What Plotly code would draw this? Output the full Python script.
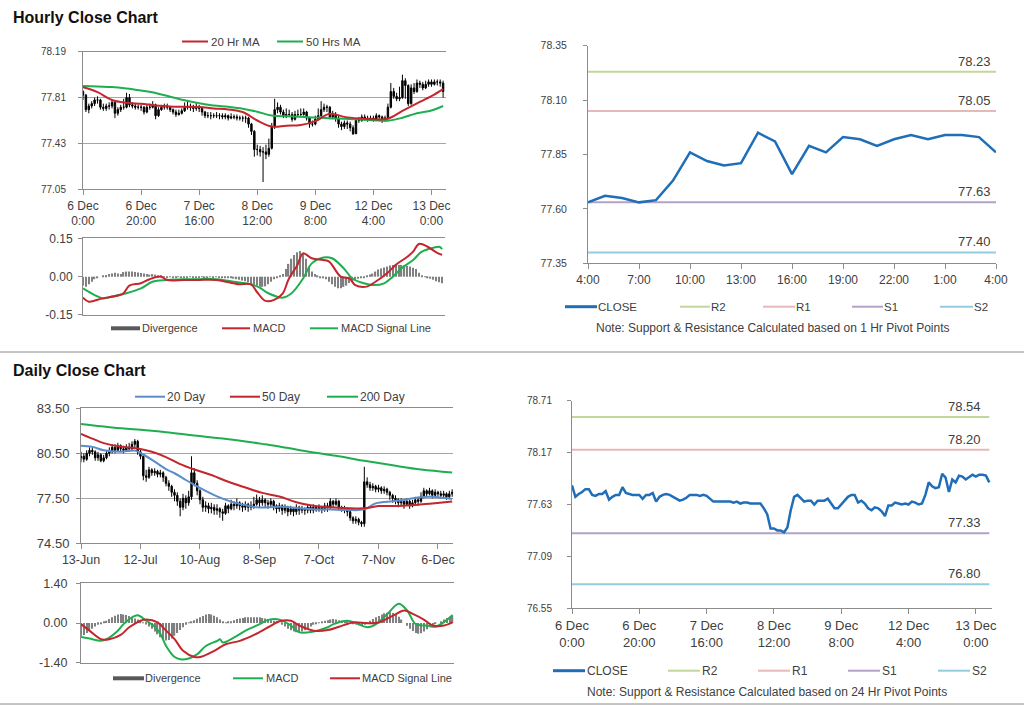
import plotly.graph_objects as go

W, H = 1024, 706
FONT = "Arial, Liberation Sans, Helvetica, sans-serif"
TXT = "#404040"
AX = "#8c8c8c"
GRID = "#a6a6a6"
RED = "#c3262c"
GREEN = "#1fae4f"
BLUE_MA = "#5b8ccb"
CLOSE_BLUE = "#1f6eb7"
DIV_GRAY = "#808080"
PIVOT_COLORS = {"R2": "#c3d69b", "R1": "#e6b9b8", "S1": "#b3a2c7", "S2": "#93cddd"}

# ---------------- hourly data (6 Dec 0:00 -> 13 Dec 4:00, trading hours) ----------------
hour_tick_pos = [0, 20, 40, 60, 80, 100, 120]
hour_tick_text = ["6 Dec<br>0:00", "6 Dec<br>20:00", "7 Dec<br>16:00", "8 Dec<br>12:00",
                  "9 Dec<br>8:00", "12 Dec<br>4:00", "13 Dec<br>0:00"]

h_open = [77.86,77.83,77.71,77.74,77.76,77.79,77.79,77.73,77.72,77.74,
          77.74,77.77,77.68,77.71,77.73,77.73,77.81,77.75,77.74,77.73,
          77.73,77.73,77.69,77.73,77.73,77.75,77.66,77.71,77.73,77.74,
          77.73,77.71,77.69,77.67,77.68,77.70,77.73,77.73,77.73,77.72,
          77.73,77.72,77.69,77.66,77.66,77.66,77.66,77.66,77.66,77.65,
          77.66,77.64,77.65,77.65,77.64,77.64,77.64,77.64,77.59,77.53,
          77.38,77.38,77.36,77.36,77.34,77.39,77.57,77.71,77.73,77.69,
          77.66,77.67,77.67,77.63,77.67,77.67,77.67,77.69,77.64,77.59,
          77.59,77.63,77.66,77.71,77.73,77.73,77.65,77.67,77.64,77.59,
          77.57,77.60,77.59,77.56,77.51,77.62,77.62,77.65,77.64,77.63,
          77.64,77.63,77.66,77.65,77.63,77.64,77.73,77.86,77.82,77.80,
          77.81,77.95,77.91,77.76,77.89,77.86,77.93,77.92,77.89,77.92,
          77.94,77.92,77.94,77.94,77.93]
h_high = [77.87,77.84,77.76,77.78,77.81,77.82,77.80,77.76,77.76,77.77,
          77.79,77.78,77.73,77.75,77.80,77.85,77.84,77.77,77.76,77.75,
          77.75,77.74,77.75,77.76,77.78,77.76,77.73,77.75,77.76,77.76,
          77.74,77.72,77.71,77.71,77.72,77.77,77.78,77.76,77.75,77.77,
          77.75,77.73,77.70,77.69,77.69,77.68,77.69,77.68,77.68,77.68,
          77.67,77.68,77.67,77.67,77.66,77.66,77.66,77.65,77.60,77.54,
          77.42,77.41,77.40,77.42,77.47,77.60,77.80,77.77,77.75,77.71,
          77.72,77.71,77.69,77.70,77.71,77.72,77.72,77.70,77.65,77.62,
          77.66,77.72,77.78,77.76,77.75,77.74,77.70,77.69,77.66,77.61,
          77.62,77.62,77.61,77.58,77.64,77.65,77.67,77.67,77.66,77.66,
          77.66,77.68,77.67,77.66,77.66,77.76,77.93,77.89,77.85,77.90,
          78.00,77.97,77.92,77.92,77.93,77.96,77.95,77.94,77.95,77.96,
          77.96,77.96,77.96,77.96,77.95]
h_low = [77.79,77.69,77.68,77.72,77.74,77.76,77.71,77.70,77.70,77.71,
         77.72,77.64,77.66,77.69,77.71,77.72,77.73,77.72,77.71,77.71,
         77.70,77.67,77.68,77.71,77.72,77.63,77.65,77.70,77.71,77.71,
         77.69,77.67,77.65,77.66,77.67,77.69,77.71,77.70,77.69,77.70,
         77.69,77.66,77.64,77.64,77.63,77.64,77.64,77.63,77.63,77.63,
         77.62,77.63,77.63,77.62,77.62,77.61,77.60,77.56,77.50,77.32,
         77.33,77.32,77.11,77.30,77.32,77.38,77.55,77.68,77.67,77.64,
         77.64,77.65,77.61,77.62,77.65,77.65,77.66,77.62,77.56,77.57,
         77.58,77.62,77.65,77.69,77.69,77.63,77.63,77.61,77.56,77.54,
         77.55,77.55,77.53,77.50,77.51,77.60,77.61,77.62,77.61,77.62,
         77.61,77.62,77.62,77.60,77.61,77.63,77.72,77.80,77.78,77.78,
         77.80,77.80,77.74,77.75,77.84,77.85,77.89,77.87,77.88,77.90,
         77.90,77.91,77.91,77.90,77.81]
h_close = [77.83,77.71,77.74,77.76,77.79,77.79,77.73,77.72,77.74,77.74,
           77.77,77.68,77.71,77.73,77.73,77.81,77.75,77.74,77.73,77.73,
           77.73,77.69,77.73,77.73,77.75,77.66,77.71,77.73,77.74,77.73,
           77.71,77.69,77.67,77.68,77.70,77.73,77.73,77.73,77.72,77.73,
           77.72,77.69,77.66,77.66,77.66,77.66,77.66,77.66,77.65,77.66,
           77.64,77.65,77.65,77.64,77.64,77.64,77.64,77.59,77.53,77.38,
           77.38,77.36,77.36,77.34,77.39,77.57,77.71,77.73,77.69,77.66,
           77.67,77.67,77.63,77.67,77.67,77.67,77.69,77.64,77.59,77.59,
           77.63,77.66,77.71,77.73,77.73,77.65,77.67,77.64,77.59,77.57,
           77.60,77.59,77.56,77.51,77.62,77.62,77.65,77.64,77.63,77.64,
           77.63,77.66,77.65,77.63,77.64,77.73,77.86,77.82,77.80,77.81,
           77.95,77.91,77.76,77.89,77.86,77.93,77.92,77.89,77.92,77.94,
           77.92,77.94,77.94,77.93,77.86]
h_index = list(range(len(h_close)))

ma_hours = [0,5,10,15,20,25,30,35,40,45,50,55,60,65,70,75,80,85,90,95,100,105,110,115,120,124]
ma20h = [77.895,77.855,77.79,77.767,77.758,77.745,77.737,77.734,77.732,77.72,77.712,77.69,77.62,
         77.57,77.577,77.583,77.615,77.675,77.65,77.637,77.63,77.635,77.70,77.762,77.822,77.88]
ma50h = [77.906,77.901,77.897,77.885,77.868,77.848,77.817,77.788,77.764,77.744,77.733,77.718,77.693,
         77.661,77.655,77.651,77.644,77.639,77.634,77.628,77.622,77.618,77.643,77.68,77.703,77.74]

h_div = [-0.035,-0.04,-0.03,-0.02,-0.01,
         -0.005,0.0,0.003,
         0.006,0.01,0.012,
         0.015,0.012,0.01,
         0.018,0.02,0.02,0.02,0.018,0.016,0.014,
         0.012,0.01,0.008,0.01,0.008,
         0.004,0.002,-0.002,
         -0.003,-0.002,-0.004,-0.003,-0.002,-0.003,-0.005,-0.003,-0.002,-0.003,-0.004,
         -0.003,-0.002,-0.005,-0.003,-0.002,-0.003,-0.002,-0.003,-0.004,-0.003,-0.004,
         -0.006,-0.008,-0.01,-0.012,-0.015,-0.018,
         -0.022,-0.028,-0.032,-0.036,-0.04,-0.04,-0.038,-0.03,
         -0.02,-0.01,-0.004,
         0.004,0.01,0.03,
         0.05,0.07,0.085,0.095,0.1,0.09,0.07,
         0.04,0.02,0.01,
         0.003,-0.004,-0.006,-0.01,-0.02,
         -0.03,-0.04,-0.045,-0.045,-0.04,-0.035,-0.025,-0.02,
         -0.012,-0.008,-0.005,-0.003,0.003,
         0.008,0.012,0.02,0.028,0.032,0.036,
         0.04,0.044,0.046,0.048,0.046,0.046,0.044,0.042,0.04,
         0.035,0.03,0.015,0.005,
         -0.002,-0.004,-0.008,-0.012,-0.018,-0.022,-0.026]
hmacd_hours = [0,2,6,8,12,14,16,20,23,27,29,35,40,46,52,54,58,60,63,66,
               69,71,74,76,79,83,85,89,92,94,98,101,105,108,112,114,116,119,122,124]
hmacd = [-0.082,-0.098,-0.087,-0.082,-0.074,-0.065,-0.035,-0.026,-0.010,0.000,
         -0.013,-0.013,-0.013,-0.013,-0.026,-0.030,-0.030,-0.059,-0.095,-0.091,
         -0.065,-0.010,0.045,0.091,0.072,0.065,0.059,0.000,-0.007,-0.033,
         -0.039,-0.020,0.013,0.046,0.078,0.098,0.128,0.117,0.095,0.085]
hsig_hours = [0,4,7,10,15,20,24,29,35,40,46,52,58,61,64,69,72,76,79,83,
              86,90,93,97,100,104,107,110,114,117,121,123,124]
hsig = [-0.046,-0.072,-0.085,-0.078,-0.065,-0.046,-0.020,-0.013,-0.010,-0.010,
        -0.010,-0.020,-0.030,-0.043,-0.065,-0.082,-0.065,-0.007,0.052,0.075,
        0.072,0.033,-0.007,-0.026,-0.033,-0.026,0.000,0.033,0.065,0.098,
        0.113,0.117,0.108]

# last 24 hours (12 Dec 4:00 -> 13 Dec 4:00)
last24_text = ["4:00","7:00","10:00","13:00","16:00","19:00","22:00","1:00","4:00"]
last24_pos = [0,3,6,9,12,15,18,21,24]
pivot_1h = {"R2": 78.23, "R1": 78.05, "S1": 77.63, "S2": 77.40}
pivot_24h = {"R2": 78.54, "R1": 78.20, "S1": 77.33, "S2": 76.80}

# ---------------- daily data (13 Jun -> 13 Dec, trading days) ----------------
day_tick_pos = [0, 21, 42, 63, 84, 105, 126]
day_tick_text = ["13-Jun", "12-Jul", "10-Aug", "8-Sep", "7-Oct", "7-Nov", "6-Dec"]
d_open = [80.2,80.3,80.1,80.5,80.7,80.6,80.2,80.4,80.0,80.2,
          80.5,80.6,80.9,80.7,81.0,80.8,80.7,80.9,80.8,81.1,
          81.3,80.6,80.3,79.0,78.9,79.4,79.2,79.3,79.1,79.2,
          78.9,78.5,78.3,77.9,77.7,77.3,76.9,77.5,77.2,77.6,
          79.2,78.5,78.0,77.4,76.9,77.0,76.8,76.9,76.7,76.8,
          76.6,76.5,77.0,76.8,77.1,77.0,77.2,77.0,76.9,77.1,
          76.9,77.0,77.1,77.4,77.2,77.4,77.2,77.1,77.3,77.0,
          76.8,77.0,76.7,76.9,76.6,76.8,76.6,76.9,76.7,76.8,
          76.7,76.9,76.7,76.9,76.8,76.9,76.8,77.0,76.9,77.3,
          77.1,77.3,76.9,76.8,76.8,76.6,76.2,76.0,76.1,75.9,
          75.8,78.6,78.4,78.2,78.3,78.1,78.2,78.0,78.1,77.9,
          77.7,77.5,77.4,77.2,77.3,77.1,77.3,77.0,77.2,77.4,
          77.3,77.6,78.0,77.8,78.0,77.7,77.9,77.8,77.7,77.8,
          77.6,77.8]
d_high = [80.6,80.5,80.7,80.9,80.9,80.7,80.6,80.5,80.4,80.7,
          80.9,81.1,81.1,81.2,81.1,81.0,81.1,81.2,81.3,81.45,
          81.4,80.8,80.4,79.4,79.6,79.5,79.5,79.4,79.4,79.3,
          79.0,78.7,78.4,78.1,77.9,77.5,77.8,77.7,78.0,80.3,
          79.5,78.7,78.1,77.6,77.3,77.2,77.2,77.1,77.1,76.9,
          76.8,77.2,77.1,77.4,77.3,77.5,77.3,77.2,77.3,77.2,
          77.3,77.6,77.75,77.6,77.7,77.5,77.4,77.5,77.4,77.1,
          77.2,77.1,77.1,77.0,77.0,76.9,77.1,77.0,77.0,76.9,
          77.1,77.0,77.1,77.0,77.1,77.0,77.2,77.2,77.5,77.4,
          77.5,77.4,77.0,77.0,76.9,76.7,76.3,76.3,76.2,76.0,
          79.6,78.9,78.6,78.5,78.4,78.4,78.3,78.3,78.2,78.0,
          77.8,77.7,77.5,77.5,77.4,77.5,77.4,77.4,77.6,77.6,
          77.9,78.2,78.1,78.2,78.1,78.1,78.0,78.0,78.0,77.9,
          78.0,78.1]
d_low = [79.9,79.9,80.0,80.3,80.4,80.0,80.0,79.9,79.9,80.1,
         80.3,80.5,80.5,80.6,80.6,80.5,80.6,80.6,80.7,80.9,
         80.4,80.1,78.7,78.6,78.8,79.0,79.0,78.9,78.9,78.6,
         78.3,78.0,77.6,77.3,77.0,76.3,76.7,76.8,77.0,77.4,
         78.3,77.7,77.1,76.6,76.6,76.5,76.5,76.4,76.4,76.2,
         76.0,76.4,76.5,76.7,76.7,76.8,76.7,76.6,76.7,76.6,
         76.7,76.8,77.0,76.9,77.0,76.9,76.8,76.9,76.7,76.5,
         76.6,76.4,76.5,76.3,76.4,76.3,76.4,76.4,76.5,76.4,
         76.5,76.5,76.5,76.6,76.6,76.5,76.6,76.6,76.8,76.9,
         77.0,76.7,76.6,76.5,76.3,76.0,75.8,75.8,75.7,75.6,
         75.6,78.2,78.0,78.0,77.9,77.9,77.8,77.8,77.7,77.4,
         77.2,77.1,76.9,77.0,76.8,77.0,76.8,76.9,77.0,77.0,
         77.2,77.5,77.6,77.7,77.5,77.6,77.6,77.5,77.5,77.4,
         77.5,77.6]
d_close = [80.3,80.1,80.5,80.7,80.6,80.2,80.4,80.0,80.2,80.5,
           80.6,80.9,80.7,81.0,80.8,80.7,80.9,80.8,81.1,81.3,
           80.6,80.3,79.0,78.9,79.4,79.2,79.3,79.1,79.2,78.9,
           78.5,78.3,77.9,77.7,77.3,76.9,77.5,77.2,77.6,79.2,
           78.5,78.0,77.4,76.9,77.0,76.8,76.9,76.7,76.8,76.6,
           76.5,77.0,76.8,77.1,77.0,77.2,77.0,76.9,77.1,76.9,
           77.0,77.1,77.4,77.2,77.4,77.2,77.1,77.3,77.0,76.8,
           77.0,76.7,76.9,76.6,76.8,76.6,76.9,76.7,76.8,76.7,
           76.9,76.7,76.9,76.8,76.9,76.8,77.0,76.9,77.3,77.1,
           77.3,76.9,76.8,76.8,76.6,76.2,76.0,76.1,75.9,75.8,
           78.6,78.4,78.2,78.3,78.1,78.2,78.0,78.1,77.9,77.7,
           77.5,77.4,77.2,77.3,77.1,77.3,77.0,77.2,77.4,77.3,
           77.6,78.0,77.8,78.0,77.7,77.9,77.8,77.7,77.8,77.6,
           77.8,77.9]
d_index = list(range(len(d_close)))

ma20_days = [0,4,8,14,19,22,26,30,33,37,40,44,48,53,58,62,66,71,77,83,88,94,100,104,110,114,119,124,131]
ma20d = [81.0,80.93,80.7,80.6,80.68,80.42,79.94,79.45,79.17,78.72,78.4,78.0,77.63,77.28,77.05,76.9,
         76.9,76.94,76.83,76.76,76.76,76.72,76.76,77.16,77.3,77.39,77.56,77.6,77.45]
ma50_days = [0,4,8,14,20,25,30,35,40,46,52,58,64,70,76,82,88,94,100,105,112,118,124,131]
ma50d = [81.8,81.48,81.18,80.95,80.82,80.6,80.25,79.78,79.42,79.05,78.6,78.22,77.86,77.62,77.24,
         77.0,76.9,76.84,76.83,76.98,76.99,77.05,77.16,77.28]
ma200_days = [0,10,20,30,40,50,60,65,70,80,90,100,110,120,131]
ma200d = [82.45,82.24,82.08,81.91,81.68,81.48,81.24,81.10,80.96,80.62,80.33,80.0,79.70,79.42,79.22]

d_div = [-0.45,-0.42,-0.35,-0.28,-0.2,-0.12,-0.06,
         -0.02,0.03,0.08,
         0.14,0.2,0.26,0.3,0.32,0.3,0.28,0.25,0.2,0.16,
         0.12,0.06,0.02,
         -0.05,-0.12,-0.2,-0.3,-0.4,-0.5,-0.58,-0.62,-0.6,-0.55,-0.45,-0.35,-0.25,-0.15,-0.06,
         0.02,0.06,0.1,
         0.15,0.2,0.25,0.3,0.32,0.3,0.26,0.2,0.12,
         0.04,0.02,0.03,0.05,
         0.1,0.14,0.16,0.18,0.2,0.2,0.2,0.2,0.2,0.2,0.18,0.16,0.14,0.1,0.08,0.05,
         0.0,-0.06,-0.12,
         -0.2,-0.26,-0.3,-0.33,-0.33,-0.3,-0.26,-0.2,-0.12,
         -0.06,-0.02,0.02,0.05,
         0.08,0.1,0.12,0.14,0.12,0.1,0.08,0.06,0.03,
         0.0,-0.03,-0.05,-0.08,-0.1,-0.06,
         0.02,0.08,0.14,0.2,0.25,0.3,0.34,
         0.36,0.38,0.35,0.3,0.22,
         0.12,0.0,-0.1,
         -0.2,-0.28,-0.35,-0.38,-0.36,-0.3,-0.22,-0.14,
         -0.08,-0.03,0.0,
         0.06,0.12,0.18,0.22,0.25]
dmacd_days = [0,3,7,9,13,15,18,20,23,26,28,30,33,35,38,41,44,48,49,50,
              54,58,63,66,70,74,77,82,87,89,94,97,101,104,108,112,115,118,122,125,129,131]
dmacd = [-0.49,-0.55,-0.63,-0.57,-0.27,-0.04,0.20,0.27,0.08,-0.13,
         -0.39,-0.81,-1.20,-1.28,-1.25,-1.10,-0.81,-0.63,-0.57,-0.69,
         -0.51,-0.27,-0.04,0.11,0.12,-0.09,-0.33,-0.30,-0.15,-0.04,
         0.08,-0.01,-0.15,-0.04,0.32,0.68,0.44,-0.04,-0.09,-0.13,0.11,0.28]
dsig_days = [0,3,7,10,14,17,21,23,27,30,33,36,40,42,47,51,56,61,66,70,
             74,77,82,87,91,96,101,105,110,114,117,121,124,128,131]
dsig = [-0.04,-0.27,-0.57,-0.57,-0.42,-0.15,0.08,0.12,0.02,-0.27,
        -0.57,-0.98,-1.20,-1.20,-0.98,-0.75,-0.63,-0.42,-0.15,0.06,
        0.08,-0.09,-0.27,-0.25,-0.13,0.02,-0.01,0.02,0.26,0.44,
        0.32,0.11,-0.09,-0.09,0.02]

# axis tick values
h_price_ticks = [77.05, 77.43, 77.81, 78.19]
h_macd_ticks = [-0.15, 0.00, 0.15]
p1_ticks = [77.35, 77.60, 77.85, 78.10, 78.35]
d_price_ticks = [74.50, 77.50, 80.50, 83.50]
d_macd_ticks = [-1.40, 0.00, 1.40]
p24_ticks = [76.55, 77.09, 77.63, 78.17, 78.71]

# ---------------- figure ----------------
def pxx(x):
    return x / W

def pyy(y):
    return 1 - y / H

EPS = 1e-4
fig = go.Figure()

def xaxis(x0, x1, rng, anchor, tickvals=None, ticktext=None, size=12, mirror=False):
    d = dict(domain=[pxx(x0), pxx(x1)], range=rng, anchor=anchor, showgrid=False, zeroline=False,
             showline=True, linecolor=AX, linewidth=1, mirror=mirror, fixedrange=True, automargin=False,
             tickfont=dict(size=size, color=TXT, family=FONT), rangeslider=dict(visible=False))
    if tickvals is not None:
        d.update(tickmode="array", tickvals=tickvals, ticktext=ticktext, ticks="outside",
                 ticklen=5, tickcolor=AX, showticklabels=True)
    else:
        d.update(showticklabels=False, ticks="")
    return d

def yaxis(y0, y1, ticks, anchor, size, standoff, grid):
    rng = [ticks[0] - (ticks[-1] - ticks[0]) * EPS, ticks[-1] + (ticks[-1] - ticks[0]) * EPS]
    return dict(domain=[pyy(y1), pyy(y0)], range=rng, anchor=anchor, tickmode="array",
                tickvals=ticks, ticktext=[f"{v:.2f}" for v in ticks], ticks="outside", ticklen=4,
                tickcolor=AX, showline=True, linecolor=AX, linewidth=1, showgrid=grid,
                gridcolor=GRID, gridwidth=1, zeroline=False, fixedrange=True, automargin=False,
                tickfont=dict(size=size, color=TXT, family=FONT), ticklabelstandoff=standoff)

layout = dict(
    width=W, height=H, margin=dict(l=0, r=0, t=0, b=0, pad=0, autoexpand=False), showlegend=False,
    paper_bgcolor="white", plot_bgcolor="white", font=dict(family=FONT, color=TXT),
    xaxis=xaxis(83, 446, [0, 125], "y", hour_tick_pos, hour_tick_text, 12, True),
    yaxis=yaxis(51.7, 189.3, h_price_ticks, "x", 10, 10, True),
    xaxis2=xaxis(83, 445, [0, 125], "y2", mirror=True),
    yaxis2=yaxis(238.3, 315, h_macd_ticks, "x2", 12, 3, False),
    xaxis3=xaxis(588, 996, [0, 24], "y3", last24_pos, last24_text, 12),
    yaxis3=yaxis(45.7, 263.3, p1_ticks, "x3", 10.5, 14, False),
    xaxis4=xaxis(81, 453, [0, 131.3], "y4", day_tick_pos, day_tick_text, 12.5, True),
    yaxis4=yaxis(408.3, 543.3, d_price_ticks, "x4", 13, 4, True),
    xaxis5=xaxis(81, 454, [0, 131.5], "y5", mirror=True),
    yaxis5=yaxis(583.3, 662.7, d_macd_ticks, "x5", 12.5, 6, False),
    xaxis6=xaxis(572, 992, [0, 124.8], "y6", hour_tick_pos, hour_tick_text, 13),
    yaxis6=yaxis(400.7, 608.3, p24_ticks, "x6", 10, 13, False),
)

candle_style = dict(increasing=dict(line=dict(color="black", width=1), fillcolor="black"),
                    decreasing=dict(line=dict(color="black", width=1), fillcolor="black"),
                    whiskerwidth=0, hoverinfo="skip")

# Panel 1: hourly price
fig.add_trace(go.Candlestick(x=h_index, open=h_open, high=h_high, low=h_low, close=h_close,
                             xaxis="x", yaxis="y", **candle_style))
fig.add_trace(go.Scatter(x=ma_hours, y=ma50h, mode="lines", line=dict(color=GREEN, width=2, shape="spline"),
                         xaxis="x", yaxis="y"))
fig.add_trace(go.Scatter(x=ma_hours, y=ma20h, mode="lines", line=dict(color=RED, width=2, shape="spline"),
                         xaxis="x", yaxis="y"))

# Panel 2: hourly MACD
fig.add_trace(go.Bar(x=h_index, y=h_div, width=0.45, marker=dict(color=DIV_GRAY, line=dict(width=0)),
                     xaxis="x2", yaxis="y2"))
fig.add_trace(go.Scatter(x=hsig_hours, y=hsig, mode="lines", line=dict(color=GREEN, width=2, shape="spline"),
                         xaxis="x2", yaxis="y2"))
fig.add_trace(go.Scatter(x=hmacd_hours, y=hmacd, mode="lines", line=dict(color=RED, width=2, shape="spline"),
                         xaxis="x2", yaxis="y2"))

# Panel 3: last 24 hours with 1h pivots
last24_close = h_close[-25:]
for name, lvl in pivot_1h.items():
    fig.add_trace(go.Scatter(x=[last24_pos[0], last24_pos[-1]], y=[lvl, lvl], mode="lines",
                             line=dict(color=PIVOT_COLORS[name], width=2), xaxis="x3", yaxis="y3"))
fig.add_trace(go.Scatter(x=list(range(len(last24_close))), y=last24_close, mode="lines",
                         line=dict(color=CLOSE_BLUE, width=2.5), xaxis="x3", yaxis="y3"))

# Panel 4: daily price
fig.add_trace(go.Candlestick(x=d_index, open=d_open, high=d_high, low=d_low, close=d_close,
                             xaxis="x4", yaxis="y4", **candle_style))
fig.add_trace(go.Scatter(x=ma20_days, y=ma20d, mode="lines", line=dict(color=BLUE_MA, width=2, shape="spline"),
                         xaxis="x4", yaxis="y4"))
fig.add_trace(go.Scatter(x=ma50_days, y=ma50d, mode="lines", line=dict(color=RED, width=2, shape="spline"),
                         xaxis="x4", yaxis="y4"))
fig.add_trace(go.Scatter(x=ma200_days, y=ma200d, mode="lines", line=dict(color=GREEN, width=2, shape="spline"),
                         xaxis="x4", yaxis="y4"))

# Panel 5: daily MACD
fig.add_trace(go.Bar(x=d_index, y=d_div, width=0.45, marker=dict(color=DIV_GRAY, line=dict(width=0)),
                     xaxis="x5", yaxis="y5"))
fig.add_trace(go.Scatter(x=dmacd_days, y=dmacd, mode="lines", line=dict(color=GREEN, width=2, shape="spline"),
                         xaxis="x5", yaxis="y5"))
fig.add_trace(go.Scatter(x=dsig_days, y=dsig, mode="lines", line=dict(color=RED, width=2, shape="spline"),
                         xaxis="x5", yaxis="y5"))

# Panel 6: hourly close with 24h pivots
for name, lvl in pivot_24h.items():
    fig.add_trace(go.Scatter(x=[h_index[0], h_index[-1]], y=[lvl, lvl], mode="lines",
                             line=dict(color=PIVOT_COLORS[name], width=2), xaxis="x6", yaxis="y6"))
fig.add_trace(go.Scatter(x=h_index, y=h_close, mode="lines", line=dict(color=CLOSE_BLUE, width=2.5),
                         xaxis="x6", yaxis="y6"))

shapes = []
annotations = []

def legend_item(x0, x1, y, color, width, text, tx, size):
    shapes.append(dict(type="line", xref="paper", yref="paper", x0=pxx(x0), x1=pxx(x1),
                       y0=pyy(y), y1=pyy(y), line=dict(color=color, width=width)))
    annotations.append(dict(xref="paper", yref="paper", x=pxx(tx), y=pyy(y), text=text, showarrow=False,
                            xanchor="left", yanchor="middle", font=dict(size=size, color=TXT, family=FONT)))

def text_at(x, y, text, size, anchor="center", color=TXT, bold=False):
    annotations.append(dict(xref="paper", yref="paper", x=pxx(x), y=pyy(y),
                            text=f"<b>{text}</b>" if bold else text, showarrow=False,
                            xanchor=anchor, yanchor="middle", font=dict(size=size, color=color, family=FONT)))

# titles and separators
text_at(11, 17, "Hourly Close Chart", 16, "left", "#111111", True)
text_at(11, 370, "Daily Close Chart", 16, "left", "#111111", True)
for yy in (352, 704):
    shapes.append(dict(type="line", xref="paper", yref="paper", x0=0, x1=1, y0=pyy(yy), y1=pyy(yy),
                       line=dict(color="#8a8a8a", width=1)))

# legends
legend_item(182, 208, 41.5, RED, 2, "20 Hr MA", 209, 11.5)
legend_item(277, 303, 41.5, GREEN, 2, "50 Hrs MA", 304, 11.5)
legend_item(111, 140, 328.3, "#595959", 4, "Divergence", 140, 11)
legend_item(222, 250, 328.3, RED, 2, "MACD", 251, 11)
legend_item(310, 338, 328.3, GREEN, 2, "MACD Signal Line", 339, 11)

legend_item(565, 597, 306.7, CLOSE_BLUE, 3, "CLOSE", 596, 11.5)
legend_item(680, 710, 306.7, PIVOT_COLORS["R2"], 2, "R2", 709, 11.5)
legend_item(763, 795, 306.7, PIVOT_COLORS["R1"], 2, "R1", 794, 11.5)
legend_item(852, 883, 306.7, PIVOT_COLORS["S1"], 2, "S1", 882, 11.5)
legend_item(940, 973, 306.7, PIVOT_COLORS["S2"], 2, "S2", 972, 11.5)
text_at(773, 327.7, "Note: Support &amp; Resistance Calculated based on 1 Hr Pivot Points", 12)

legend_item(135, 165, 396.7, BLUE_MA, 2, "20 Day", 165, 12)
legend_item(230, 260, 396.7, RED, 2, "50 Day", 260, 12)
legend_item(327, 358, 396.7, GREEN, 2, "200 Day", 358, 12)
legend_item(113, 144, 678.3, "#595959", 4, "Divergence", 143, 11)
legend_item(233, 263, 678.3, GREEN, 2, "MACD", 264, 11)
legend_item(330, 360, 678.3, RED, 2, "MACD Signal Line", 360, 11)

legend_item(553, 585, 670.7, CLOSE_BLUE, 3, "CLOSE", 585, 12)
legend_item(668, 700, 670.7, PIVOT_COLORS["R2"], 2, "R2", 700, 12)
legend_item(758, 790, 670.7, PIVOT_COLORS["R1"], 2, "R1", 790, 12)
legend_item(848, 880, 670.7, PIVOT_COLORS["S1"], 2, "S1", 880, 12)
legend_item(938, 970, 670.7, PIVOT_COLORS["S2"], 2, "S2", 970, 12)
text_at(767, 692.3, "Note: Support &amp; Resistance Calculated based on 24 Hr Pivot Points", 12)

# pivot level labels
for name, lvl in pivot_1h.items():
    annotations.append(dict(xref="x3", yref="y3", x=last24_pos[-1], y=lvl, text=f"{lvl:.2f}",
                            showarrow=False, xanchor="right", yanchor="bottom", xshift=-3, yshift=1,
                            font=dict(size=13, color=TXT, family=FONT)))
for name, lvl in pivot_24h.items():
    annotations.append(dict(xref="x6", yref="y6", x=h_index[-1], y=lvl, text=f"{lvl:.2f}",
                            showarrow=False, xanchor="right", yanchor="bottom", xshift=-6, yshift=1,
                            font=dict(size=13, color=TXT, family=FONT)))

layout["shapes"] = shapes
layout["annotations"] = annotations
fig.update_layout(**layout)

fig.write_html("out.html", config={"displayModeBar": False},
               post_script="document.body.style.margin='0';document.body.style.padding='0';")
